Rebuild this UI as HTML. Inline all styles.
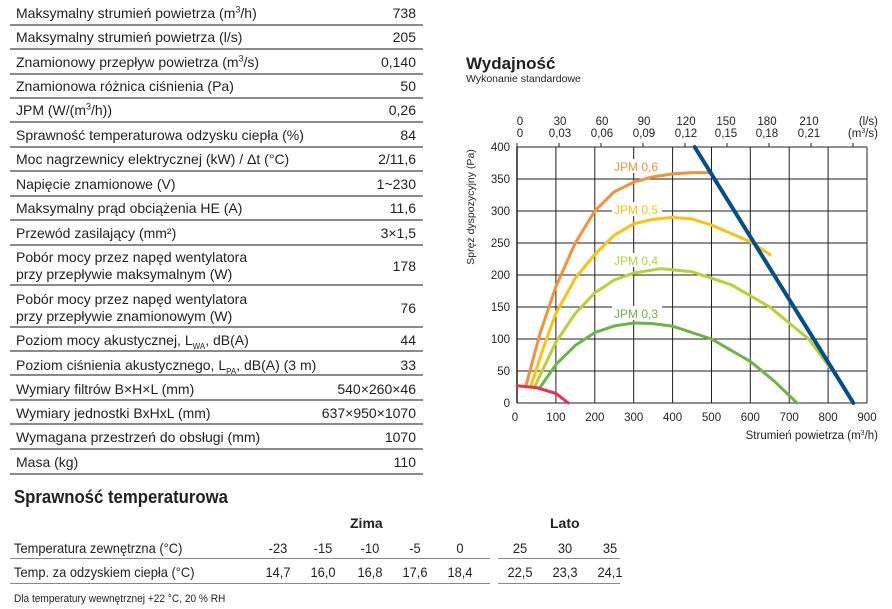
<!DOCTYPE html>
<html><head><meta charset="utf-8"><style>
body{margin:0;width:892px;height:609px;background:#fff;position:relative;font-family:"Liberation Sans",sans-serif;color:#231f20;overflow:hidden}
sup,sub{line-height:0}
.r{position:absolute;left:16px;width:400px;font-size:14px;line-height:17px}
.r .v{position:absolute;right:0;top:0}
.ln{position:absolute;left:10px;width:413px;height:2px;background:#8a8a8a}
.t{position:absolute;font-size:14px;transform:scaleX(.92);transform-origin:left}
.c{position:absolute;font-size:14px;width:40px;text-align:center;transform:scaleX(.92)}
</style></head><body>
<div class="r" style="top:5px">Maksymalny strumień powietrza (m<sup style="font-size:9px">3</sup>/h)<span class="v">738</span></div>
<div class="ln" style="top:24px"></div>
<div class="r" style="top:29px">Maksymalny strumień powietrza (l/s)<span class="v">205</span></div>
<div class="ln" style="top:48px"></div>
<div class="r" style="top:54px">Znamionowy przepływ powietrza (m<sup style="font-size:9px">3</sup>/s)<span class="v">0,140</span></div>
<div class="ln" style="top:73px"></div>
<div class="r" style="top:78px">Znamionowa różnica ciśnienia (Pa)<span class="v">50</span></div>
<div class="ln" style="top:97px"></div>
<div class="r" style="top:102px">JPM (W/(m<sup style="font-size:9px">3</sup>/h))<span class="v">0,26</span></div>
<div class="ln" style="top:121px"></div>
<div class="r" style="top:127px">Sprawność temperaturowa odzysku ciepła (%)<span class="v">84</span></div>
<div class="ln" style="top:146px"></div>
<div class="r" style="top:151px">Moc nagrzewnicy elektrycznej (kW) / Δt (°C)<span class="v">2/11,6</span></div>
<div class="ln" style="top:170px"></div>
<div class="r" style="top:176px">Napięcie znamionowe (V)<span class="v">1~230</span></div>
<div class="ln" style="top:195px"></div>
<div class="r" style="top:200px">Maksymalny prąd obciążenia HE (A)<span class="v">11,6</span></div>
<div class="ln" style="top:219px"></div>
<div class="r" style="top:225px">Przewód zasilający (mm²)<span class="v">3×1,5</span></div>
<div class="ln" style="top:244px"></div>
<div class="r" style="top:249px">Pobór mocy przez napęd wentylatora<br>przy przepływie maksymalnym (W)<span class="v" style="top:9px">178</span></div>
<div class="ln" style="top:284px"></div>
<div class="r" style="top:291px">Pobór mocy przez napęd wentylatora<br>przy przepływie znamionowym (W)<span class="v" style="top:9px">76</span></div>
<div class="ln" style="top:326px"></div>
<div class="r" style="top:332px">Poziom mocy akustycznej, L<sub style="font-size:8px">WA</sub>, dB(A)<span class="v">44</span></div>
<div class="ln" style="top:350px"></div>
<div class="r" style="top:357px">Poziom ciśnienia akustycznego, L<sub style="font-size:8px">PA</sub>, dB(A) (3 m)<span class="v">33</span></div>
<div class="ln" style="top:374px"></div>
<div class="r" style="top:381px">Wymiary filtrów B×H×L (mm)<span class="v">540×260×46</span></div>
<div class="ln" style="top:399px"></div>
<div class="r" style="top:405px">Wymiary jednostki BxHxL (mm)<span class="v">637×950×1070</span></div>
<div class="ln" style="top:423px"></div>
<div class="r" style="top:429px">Wymagana przestrzeń do obsługi (mm)<span class="v">1070</span></div>
<div class="ln" style="top:448px"></div>
<div class="r" style="top:454px">Masa (kg)<span class="v">110</span></div>
<div class="ln" style="top:473px"></div>

<div style="position:absolute;left:14px;top:487px;font-size:18px;font-weight:bold;transform:scaleX(.93);transform-origin:left">Sprawność temperaturowa</div>
<div style="position:absolute;left:350px;top:515px;font-size:14px;font-weight:bold">Zima</div>
<div style="position:absolute;left:550px;top:515px;font-size:14px;font-weight:bold">Lato</div>
<div class="t" style="left:14px;top:540px">Temperatura zewnętrzna (°C)</div>
<div class="t" style="left:14px;top:564px">Temp. za odzyskiem ciepła (°C)</div>
<div class="c" style="left:258px;top:540px">-23</div><div class="c" style="left:303px;top:540px">-15</div><div class="c" style="left:350px;top:540px">-10</div><div class="c" style="left:395px;top:540px">-5</div><div class="c" style="left:440px;top:540px">0</div><div class="c" style="left:500px;top:540px">25</div><div class="c" style="left:545px;top:540px">30</div><div class="c" style="left:590px;top:540px">35</div>
<div class="c" style="left:258px;top:564px">14,7</div><div class="c" style="left:303px;top:564px">16,0</div><div class="c" style="left:350px;top:564px">16,8</div><div class="c" style="left:395px;top:564px">17,6</div><div class="c" style="left:440px;top:564px">18,4</div><div class="c" style="left:500px;top:564px">22,5</div><div class="c" style="left:545px;top:564px">23,3</div><div class="c" style="left:590px;top:564px">24,1</div>
<div style="position:absolute;left:10px;top:558px;width:480px;height:1px;background:#888"></div>
<div style="position:absolute;left:498px;top:558px;width:122px;height:1px;background:#888"></div>
<div style="position:absolute;left:10px;top:583px;width:480px;height:1px;background:#888"></div>
<div style="position:absolute;left:498px;top:583px;width:122px;height:1px;background:#888"></div>
<div style="position:absolute;left:14px;top:593px;font-size:11px;transform:scaleX(.92);transform-origin:left">Dla temperatury wewnętrznej +22 °C, 20 % RH</div>

<div style="position:absolute;left:466px;top:54px;font-size:17px;font-weight:bold">Wydajność</div>
<div style="position:absolute;left:466px;top:73px;font-size:10.5px">Wykonanie standardowe</div>

<svg width="892" height="609" style="position:absolute;left:0;top:0" font-family="Liberation Sans, sans-serif" font-size="11.5" fill="#231f20">
<g stroke="#231f20" stroke-width="1">
<path d="M555.9 147V403M594.8 147V403M633.7 147V403M672.6 147V403M711.5 147V403M750.3 147V403M789.2 147V403M828.1 147V403M867 147V403"/>
<path d="M517 179H867M517 211H867M517 243H867M517 275H867M517 307H867M517 339H867M517 371H867M517 403H867M517 147H867"/>
<path d="M517 147V403" stroke-width="1.5"/>
<path d="M517 143V147M559 143V147M601 143V147M643 143V147M685 143V147M727 143V147M769 143V147M811 143V147M853 143V147"/>
</g>
<g text-anchor="end"><text x="510" y="151">400</text><text x="510" y="183">350</text><text x="510" y="215">300</text><text x="510" y="247">250</text><text x="510" y="279">200</text><text x="510" y="311">150</text><text x="510" y="343">100</text><text x="510" y="375">50</text><text x="510" y="407">0</text></g>
<g text-anchor="middle"><text x="515" y="421">0</text><text x="555.9" y="421">100</text><text x="594.8" y="421">200</text><text x="633.7" y="421">300</text><text x="672.6" y="421">400</text><text x="711.5" y="421">500</text><text x="750.3" y="421">600</text><text x="789.2" y="421">700</text><text x="828.1" y="421">800</text><text x="867" y="421">900</text>
<text x="520" y="125">0</text><text x="560" y="125">30</text><text x="602" y="125">60</text><text x="644" y="125">90</text><text x="686" y="125">120</text><text x="726" y="125">150</text><text x="767" y="125">180</text><text x="809" y="125">210</text>
<text x="520" y="137">0</text><text x="560" y="137">0,03</text><text x="602" y="137">0,06</text><text x="644" y="137">0,09</text><text x="686" y="137">0,12</text><text x="726" y="137">0,15</text><text x="767" y="137">0,18</text><text x="809" y="137">0,21</text></g>
<text x="878" y="125" text-anchor="end">(l/s)</text>
<text x="878" y="137" text-anchor="end">(m<tspan font-size="7" dy="-4">3</tspan><tspan dy="4">/s)</tspan></text>
<text x="878" y="439" text-anchor="end">Strumień powietrza (m<tspan font-size="7" dy="-4">3</tspan><tspan dy="4">/h)</tspan></text>
<text transform="translate(474,207) rotate(-90)" text-anchor="middle" font-size="10.5">Spręż dyspozycyjny (Pa)</text>
<g fill="none" stroke-width="3" stroke-linejoin="round" stroke-linecap="round">
<polyline stroke="#f39237" points="525.6,387 540.3,332.6 555.9,286.5 575.3,243 594.8,211 614.2,191.8 633.7,182.2 652,177 672.6,173.9 692,172.6 711.5,172.6"/>
<polyline stroke="#fdc20f" points="530.6,387 544.2,345.4 555.9,313.4 575.3,278.2 594.8,254.5 614.2,235.3 633.7,223.8 652,219.5 672.6,217.4 692,219 711.5,225.1 750.3,241.7 769.8,254.5"/>
<polyline stroke="#b5d334" points="534.5,387 555.9,342.2 575.3,313.4 594.8,292.9 614.2,280 633.7,273.1 660.9,268.6 692,271.8 730.9,284.6 769.8,307 808.7,339 830,367.8"/>
<polyline stroke="#6bb446" points="540.3,387 555.9,364.6 575.3,345.4 594.8,332.6 614.2,326 633.7,323 652,323.5 672.6,326.2 711.5,339 750.3,361.4 773.7,380.6 797,403"/>
<polyline stroke="#e8304f" points="517,385.7 536.4,387.6 555.9,393.4 561.7,397.9 568.3,403"/>
<line x1="694.7" y1="147" x2="853.4" y2="403" stroke="#034e8e" stroke-width="4"/>
</g>
<g font-size="12">
<rect x="612" y="159" width="50" height="14" fill="#fff"/><text x="614" y="171" fill="#f39237">JPM 0,6</text>
<rect x="612" y="202" width="50" height="14" fill="#fff"/><text x="614" y="214" fill="#fdc20f">JPM 0,5</text>
<rect x="612" y="253" width="50" height="14" fill="#fff"/><text x="614" y="265" fill="#b5d334">JPM 0,4</text>
<rect x="612" y="306" width="50" height="14" fill="#fff"/><text x="614" y="318" fill="#6bb446">JPM 0,3</text>
</g>
</svg>
</body></html>
